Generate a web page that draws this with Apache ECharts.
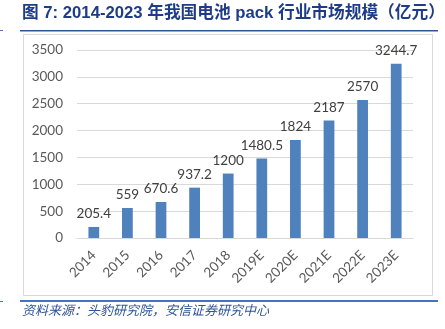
<!DOCTYPE html>
<html>
<head>
<meta charset="utf-8">
<script src="https://cdn.jsdelivr.net/npm/echarts@6/dist/echarts.min.js"></script>
<style>
html,body{margin:0;padding:0;background:#fff;}
#chart{width:445px;height:329px;}
</style>
</head>
<body>
<div id="chart"></div>
<script>
// Battery pack market size, 100 million yuan
const years = ['2014', '2015', '2016', '2017', '2018', '2019E', '2020E', '2021E', '2022E', '2023E'];
const marketSize = [205.4, 559, 670.6, 937.2, 1200, 1480.5, 1824, 2187, 2570, 3244.7];
const yTicks = { min: 0, max: 3500, interval: 500 };

const titleText = '图 7: 2014-2023 年我国电池 pack 行业市场规模（亿元）';
const sourceText = '资料来源：头豹研究院，安信证券研究中心';

const chart = echarts.init(document.getElementById('chart'), null, { renderer: 'canvas' });
const axisFont = 'Lato, "Noto Sans", sans-serif';
const navy = '#1F3C88';

chart.setOption({
  animation: false,
  grid: { left: 77, right: 32, top: 50, bottom: 91 },
  xAxis: {
    type: 'category',
    data: years,
    axisLine: { lineStyle: { color: '#d9d9d9' } },
    axisTick: { show: false },
    axisLabel: { rotate: 45, color: '#595959', fontSize: 13.5, fontFamily: axisFont, margin: 15 }
  },
  yAxis: {
    type: 'value',
    min: yTicks.min, max: yTicks.max, interval: yTicks.interval,
    axisLine: { show: false },
    axisTick: { show: false },
    splitLine: { lineStyle: { color: '#d9d9d9' } },
    axisLabel: { color: '#595959', fontSize: 13.5, fontFamily: axisFont, margin: 14, formatter: v => String(v) }
  },
  series: [{
    type: 'bar',
    data: marketSize,
    barWidth: '32%',
    itemStyle: { color: '#4F81BD' },
    label: { show: true, position: 'top', distance: 6, color: '#404040', fontSize: 13.5, fontFamily: axisFont }
  }],
  graphic: [
    { type: 'text', left: 22, top: 5, style: { text: titleText, fill: navy, font: 'bold 16.7px "Liberation Sans", "Noto Sans CJK SC", sans-serif' } },
    { type: 'rect', shape: { x: 20, y: 30, width: 418, height: 1.5 }, style: { fill: '#2F5597' } },
    { type: 'rect', shape: { x: 23.5, y: 34.5, width: 409, height: 261 }, style: { fill: 'none', stroke: '#d9d9d9', lineWidth: 1 }, z: -1 },
    { type: 'rect', shape: { x: 20, y: 300, width: 418, height: 2 }, style: { fill: '#4472C4' } },
    { type: 'rect', shape: { x: 0, y: 30, width: 3, height: 1 }, style: { fill: '#4472C4' } },
    { type: 'rect', shape: { x: 0, y: 301, width: 3, height: 1 }, style: { fill: '#4472C4' } },
    { type: 'text', left: 22, top: 304, style: { text: sourceText, fill: '#2F5597', font: 'italic 13px "Noto Sans CJK SC", sans-serif' } }
  ]
});
</script>
</body>
</html>
